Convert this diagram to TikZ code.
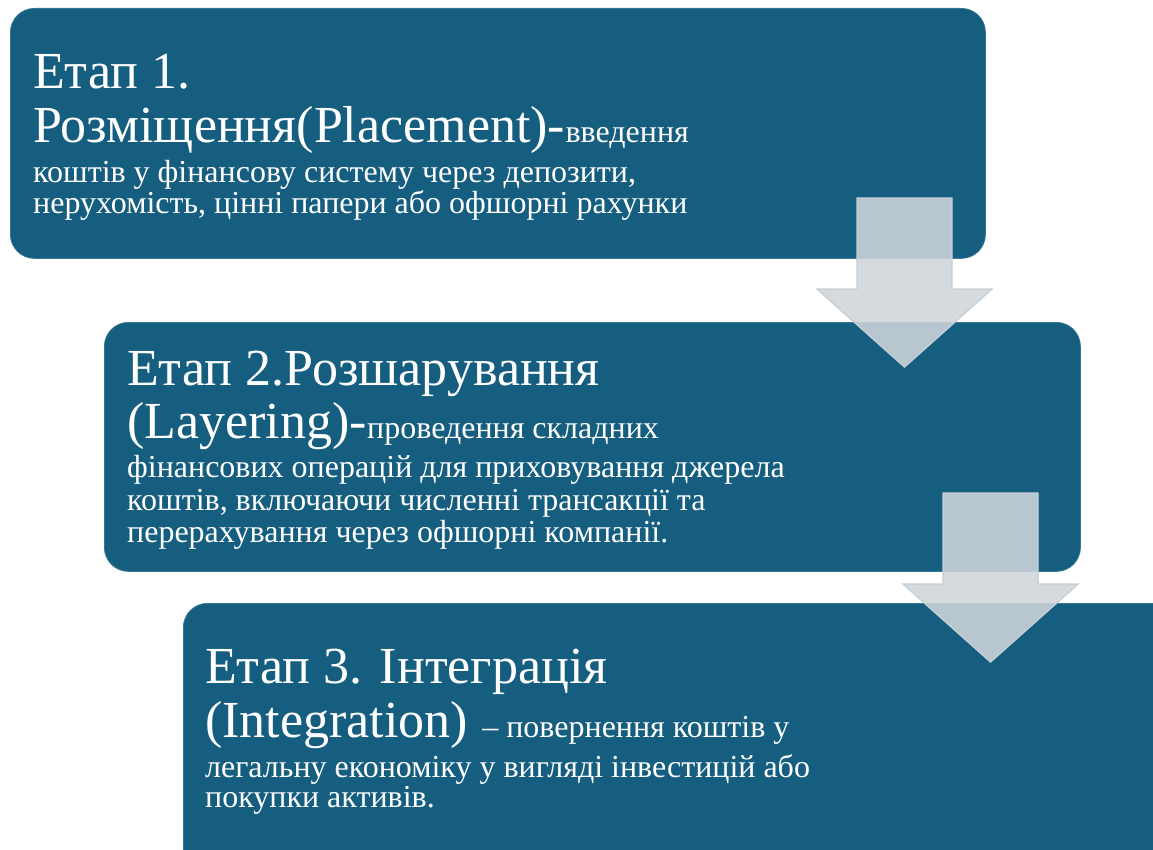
\documentclass[tikz,border=0pt]{standalone}
\usepackage{fontspec}
\setmainfont{Liberation Serif}
\newfontfamily\stagefont{Liberation Serif}
\usepackage{tikz}
\usetikzlibrary{positioning}
\definecolor{deepteal}{HTML}{165E80}
\definecolor{mist}{HTML}{CFD5DB}
\definecolor{mistedge}{HTML}{C6CED6}
\newcommand\headtext{\stagefont\fontsize{52}{56}\selectfont}
\newcommand\lowtext{\stagefont\fontsize{32}{34}\selectfont}

\begin{document}
\begin{tikzpicture}[x=1pt,y=-1pt,
  stagebox/.style={rectangle,rounded corners=24pt,fill=deepteal,draw=deepteal!85!white,
    line width=0.8pt,anchor=north west,inner sep=0pt},
  headline/.style={anchor=base west,inner sep=0pt,text=white,font=\headtext},
  sub/.style={headline,font=\lowtext},
  blockarrow/.style={fill=mist,fill opacity=0.88,draw=mistedge,line width=1.4pt,line join=miter}]
\useasboundingbox (0,0) rectangle (1153,850);
\clip (0,0) rectangle (1153,850);
% --- the three stages ----------------------------------------------
\node[stagebox,minimum width=975pt,minimum height=250pt] (stage1) at (10,8) {};
\node[stagebox,minimum width=976pt,minimum height=249pt] (stage2) at (104,322) {};
\node[stagebox,minimum width=1000pt,minimum height=280pt] (stage3) at (183,603) {};
% stage 1 text
\node[headline] (s1a) at (33,89) {Етап 1.};
\node[headline] (s1b) at (33,143) {Розміщення(Placement)-};
\node[sub] (s1b2) at (s1b.base east) {введення};
\node[sub] (s1c) at (33,183) {коштів у фінансову систему через депозити,};
\node[sub] (s1d) at (33,214) {нерухомість, цінні папери або офшорні рахунки};
% stage 2 text
\node[headline] (s2a) at (127,385) {Етап 2.Розшарування};
\node[headline] (s2b) at (127,438) {(Layering)-};
\node[sub] (s2b2) at (s2b.base east) {проведення складних};
\node[sub] (s2c) at (127,477) {фінансових операцій для приховування джерела};
\node[sub] (s2d) at (127,510) {коштів, включаючи численні трансакції та};
\node[sub] (s2e) at (127,542) {перерахування через офшорні компанії.};
% stage 3 text
\node[headline] (s3a) at (205,683) {Етап 3. Інтеграція};
\node[headline] (s3b) at (205,737) {(Integration)};
\node[sub] (s3b2) at ([xshift=14pt]s3b.base east) {– повернення коштів у};
\node[sub] (s3c) at (205,777) {легальну економіку у вигляді інвестицій або};
\node[sub] (s3d) at (205,807) {покупки активів.};
% --- down arrows, second one shifted ---------------------------------
\foreach \dx/\dy in {0/0, 86/295} {
  \begin{scope}[shift={(\dx,\dy)}]
  \draw[blockarrow] (857,198) -- (952,198) -- (952,289) -- (992,289)
    -- (904.5,367) -- (817,289) -- (857,289) -- cycle;
  \end{scope}
}
\end{tikzpicture}
\end{document}
